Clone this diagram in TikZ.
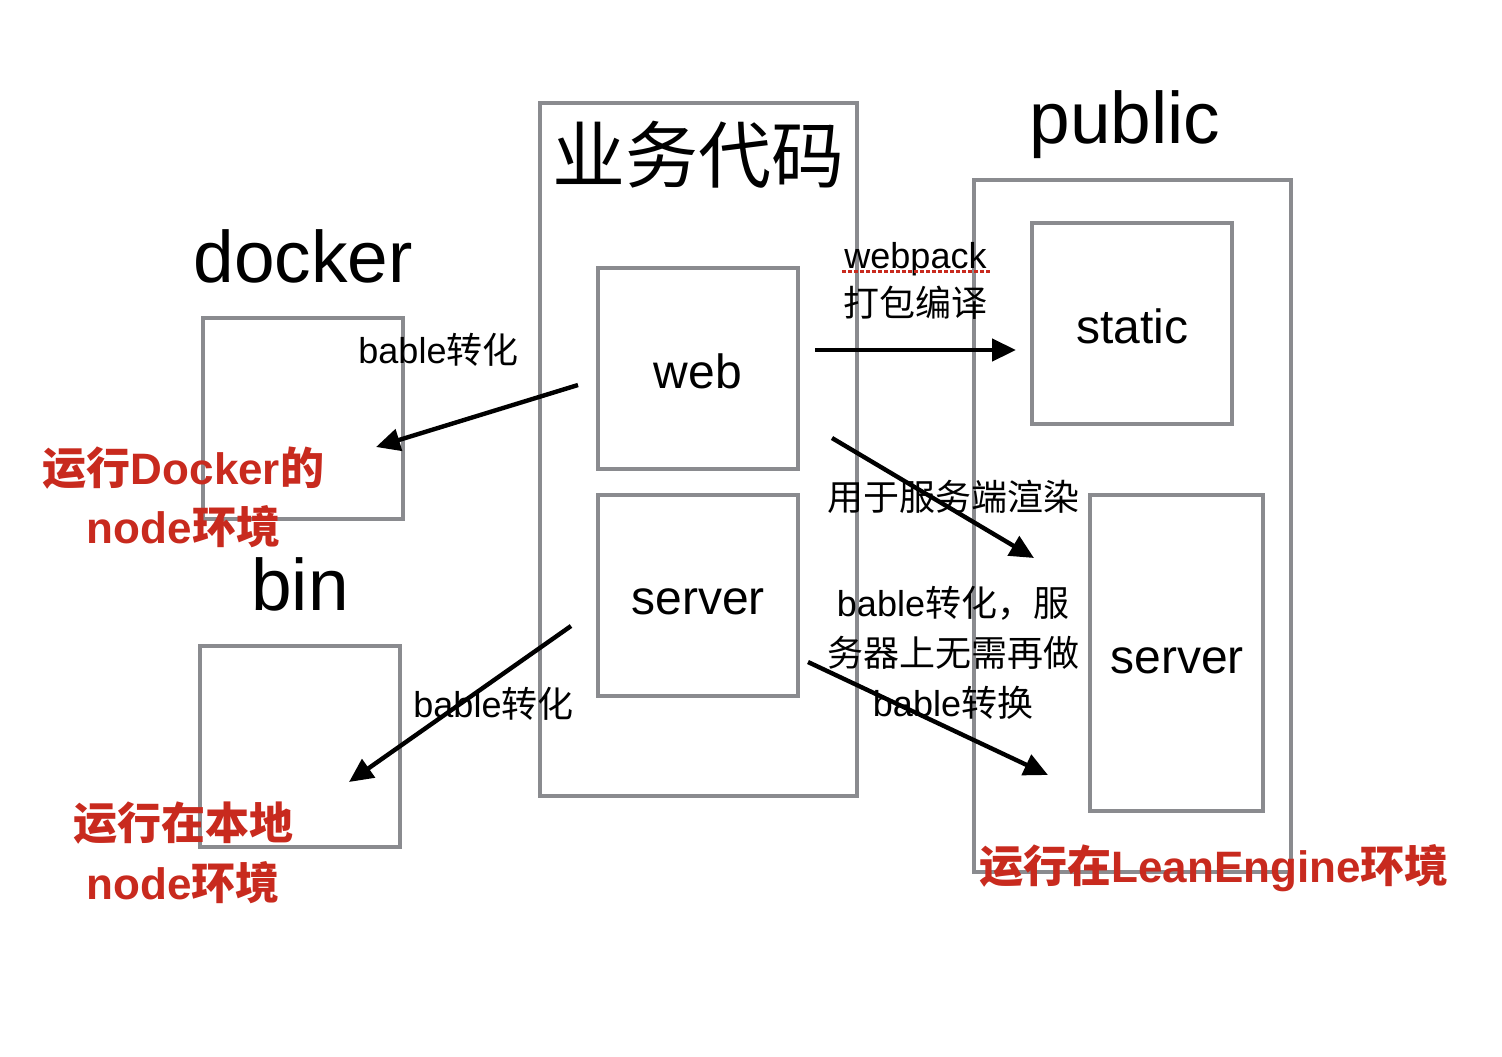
\documentclass[tikz,border=0pt]{standalone}
\usepackage{fontspec}
\setmainfont{Liberation Sans}
\newfontfamily\cjk{Noto Sans CJK SC}
\usetikzlibrary{arrows.meta}
\definecolor{boxgray}{RGB}{138,139,143}
\definecolor{labred}{RGB}{200,42,30}
\begin{document}
\begin{tikzpicture}[x=0.5pt,y=-0.5pt,
  box/.style={draw=boxgray,line width=2pt,inner sep=0pt},
  arr/.style={-{Triangle[length=12pt,width=11pt]},line width=2.2pt},
  txt/.style={inner sep=0pt,outer sep=0pt},
  huge/.style={txt,font=\fontsize{36.5pt}{44pt}\selectfont},
  mid/.style={txt,font=\fontsize{24pt}{28pt}\selectfont},
  small/.style={txt,font=\fontsize{18pt}{25pt}\selectfont,align=center},
  redlab/.style={txt,text=labred,font=\fontsize{22pt}{29.75pt}\selectfont\bfseries,align=center}]
\useasboundingbox (0,0) rectangle (1502,1056);
% boxes
\node[box,minimum width=100pt,minimum height=100.5pt] (dockerbox) at (303,418.5) {};
\node[box,minimum width=100pt,minimum height=100.5pt] (binbox) at (300,746.5) {};
\node[box,minimum width=158.5pt,minimum height=346.5pt] (bizbox) at (698.5,449.5) {};
\node[box,minimum width=100pt,minimum height=100.5pt] (webbox) at (698,368.5) {};
\node[box,minimum width=100pt,minimum height=100.5pt] (serverbox) at (698,595.5) {};
\node[box,minimum width=158.5pt,minimum height=346pt] (publicbox) at (1132.5,526) {};
\node[box,minimum width=100pt,minimum height=100.5pt] (staticbox) at (1132,323.5) {};
\node[box,minimum width=86.5pt,minimum height=158pt] (rserverbox) at (1176.5,653) {};
% titles
\node[huge,anchor=base] (docker) at (303,282) {docker};
\node[huge,anchor=base] (bin) at (300,610) {bin};
\node[huge,anchor=base] (public) at (1125,143) {public};
\node[huge] (biz) at (698,155) {\cjk 业务代码};
\node[mid,anchor=base] (web) at (698,388) {web};
\node[mid,anchor=base] (server) at (698,614) {server};
\node[mid,anchor=base] (static) at (1132,343) {static};
\node[mid,anchor=base] (rserver) at (1177,673) {server};
% labels
\node[small] (lab1) at (438.5,350) {bable{\cjk 转化}};
\node[small,anchor=base] (webpack) at (915.5,268) {webpack};
\draw[labred,line width=1.3pt,dash pattern=on 2pt off 1pt] (842,271.5) -- (990,271.5);
\node[small] (dabao) at (915,303) {\cjk 打包编译};
\node[small] (ssr) at (953,497) {\cjk 用于服务端渲染};
\node[small] (lab3) at (953,653) {bable{\cjk 转化，服}\\{\cjk 务器上无需再做}\\bable{\cjk 转换}};
\node[small] (lab2) at (493.5,704) {bable{\cjk 转化}};
\node[redlab] (red1) at (183.5,497.5) {{\cjk 运行}Docker{\cjk 的}\\node{\cjk 环境}};
\node[redlab] (red2) at (183,853) {{\cjk 运行在本地}\\node{\cjk 环境}};
\node[redlab] (red3) at (1214,868) {{\cjk 运行在}LeanEngine{\cjk 环境}};
% arrows
\coordinate (a1s) at (578,385); \coordinate (a1e) at (376,447);
\coordinate (a2s) at (815,350); \coordinate (a2e) at (1016,350);
\coordinate (a3s) at (832,438); \coordinate (a3e) at (1034,558);
\coordinate (a4s) at (571,626); \coordinate (a4e) at (349,782);
\coordinate (a5s) at (808,662); \coordinate (a5e) at (1048,775);
\draw[arr] (a1s) -- (a1e);
\draw[arr] (a2s) -- (a2e);
\draw[arr] (a3s) -- (a3e);
\draw[arr] (a4s) -- (a4e);
\draw[arr] (a5s) -- (a5e);
\end{tikzpicture}
\end{document}
